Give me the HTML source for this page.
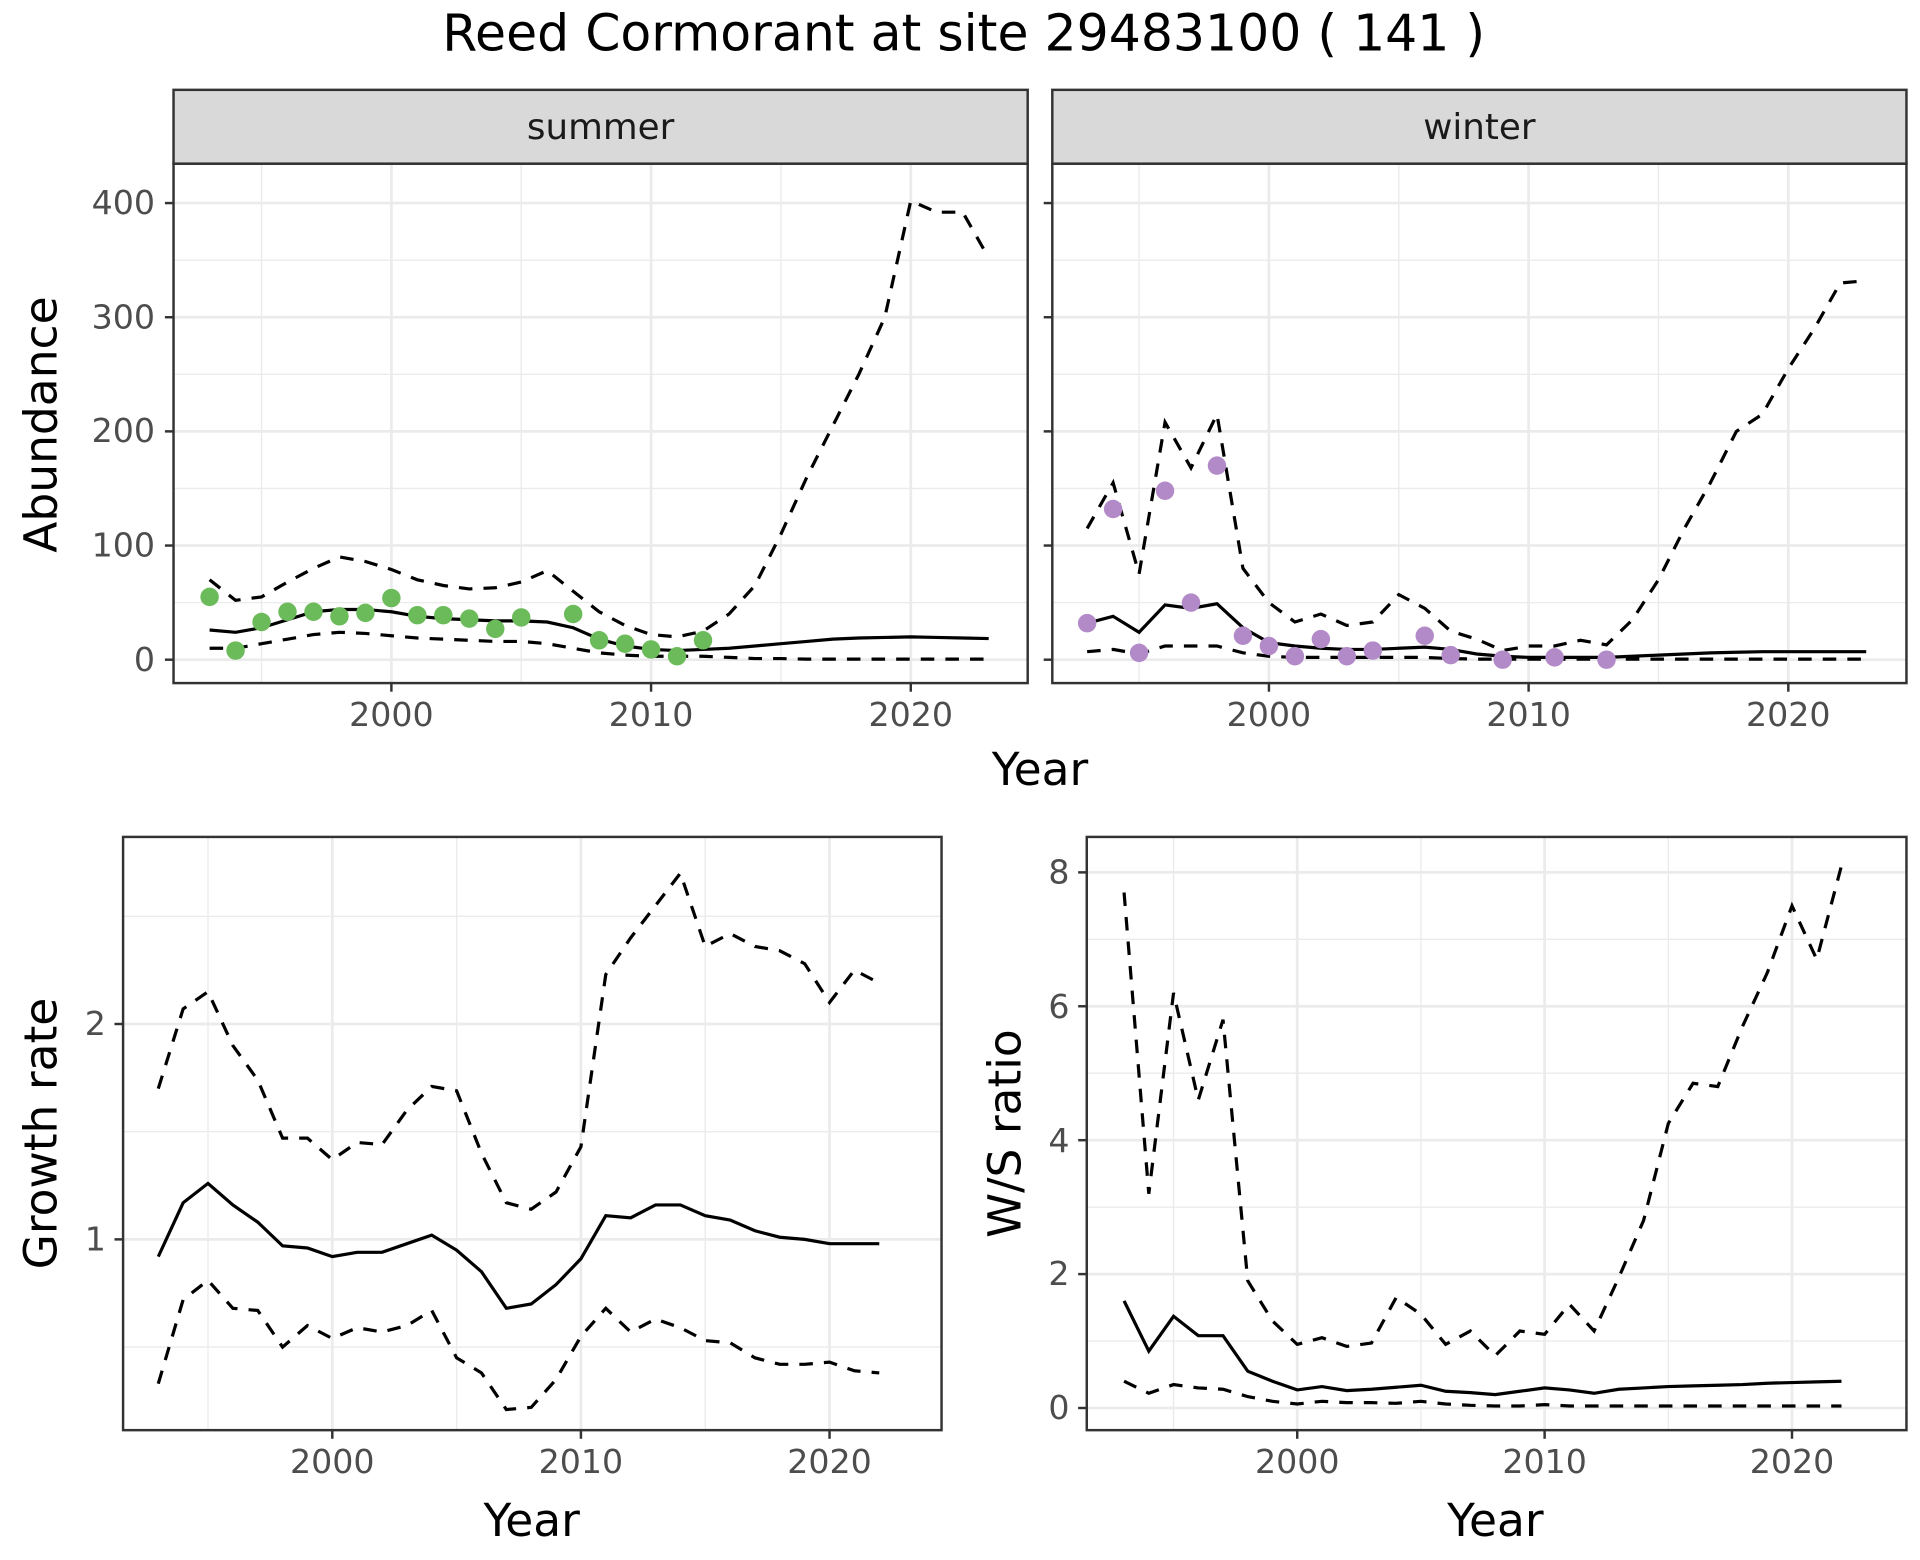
<!DOCTYPE html>
<html><head><meta charset="utf-8"><style>
html,body{margin:0;padding:0;background:#fff;}
svg{display:block;font-family:"DejaVu Sans","Liberation Sans",sans-serif;}
.t{fill:#4d4d4d;font-size:27px;}
.a{fill:#000;font-size:37px;}
</style></head><body>
<svg id="s" width="1920" height="1560" viewBox="0 0 1560 1267.5" xmlns="http://www.w3.org/2000/svg">
<rect width="1560" height="1268" fill="#fff"/>
<g id="grid"></g>
<g id="data"></g>
<text x="783" y="41" text-anchor="middle" font-size="41" fill="#000">Reed Cormorant at site 29483100 ( 141 )</text>
<rect x="141" y="73" width="694" height="60" fill="#d9d9d9" stroke="#333" stroke-width="2"/>
<rect x="855" y="73" width="694" height="60" fill="#d9d9d9" stroke="#333" stroke-width="2"/>
<text x="488" y="113" text-anchor="middle" font-size="29" fill="#1a1a1a">summer</text>
<text x="1202" y="113" text-anchor="middle" font-size="29" fill="#1a1a1a">winter</text>
<text class="t" x="126" y="545" text-anchor="end">0</text>
<text class="t" x="126" y="452" text-anchor="end">100</text>
<text class="t" x="126" y="359" text-anchor="end">200</text>
<text class="t" x="126" y="267" text-anchor="end">300</text>
<text class="t" x="126" y="174" text-anchor="end">400</text>
<text class="t" x="318" y="590" text-anchor="middle">2000</text>
<text class="t" x="529" y="590" text-anchor="middle">2010</text>
<text class="t" x="740" y="590" text-anchor="middle">2020</text>
<text class="t" x="1031" y="590" text-anchor="middle">2000</text>
<text class="t" x="1242" y="590" text-anchor="middle">2010</text>
<text class="t" x="1453" y="590" text-anchor="middle">2020</text>
<text class="a" x="845" y="638" text-anchor="middle">Year</text>
<text class="a" transform="translate(46,345) rotate(-90)" text-anchor="middle">Abundance</text>
<text class="t" x="86" y="1016" text-anchor="end">1</text>
<text class="t" x="86" y="841" text-anchor="end">2</text>
<text class="t" x="270" y="1197" text-anchor="middle">2000</text>
<text class="t" x="472" y="1197" text-anchor="middle">2010</text>
<text class="t" x="674" y="1197" text-anchor="middle">2020</text>
<text class="a" x="432" y="1248" text-anchor="middle">Year</text>
<text class="a" transform="translate(46,921) rotate(-90)" text-anchor="middle">Growth rate</text>
<text class="t" x="869" y="1153" text-anchor="end">0</text>
<text class="t" x="869" y="1044" text-anchor="end">2</text>
<text class="t" x="869" y="936" text-anchor="end">4</text>
<text class="t" x="869" y="827" text-anchor="end">6</text>
<text class="t" x="869" y="718" text-anchor="end">8</text>
<text class="t" x="1054" y="1197" text-anchor="middle">2000</text>
<text class="t" x="1255" y="1197" text-anchor="middle">2010</text>
<text class="t" x="1456" y="1197" text-anchor="middle">2020</text>
<text class="a" x="1215" y="1248" text-anchor="middle">Year</text>
<text class="a" transform="translate(829,921) rotate(-90)" text-anchor="middle">W/S ratio</text>
<g id="frames"></g>
</svg>
<script>
var NS="http://www.w3.org/2000/svg";
function el(p,t,a){var e=document.createElementNS(NS,t);for(var k in a)e.setAttribute(k,a[k]);document.getElementById(p).appendChild(e);return e;}
function yrs(a){var o=[];for(var i=0;i<a.length;i++)o.push([1993+i,a[i]]);return o;}
function panel(P){
 var fx=function(y){return P.x0+(y-2000)*P.sx;}, fy=function(v){return P.y0-(v-P.v0)*P.sy;};
 P.xminor.forEach(function(y){el("grid","line",{x1:fx(y),x2:fx(y),y1:P.t,y2:P.b,stroke:"#ebebeb","stroke-width":1.1});});
 P.yminor.forEach(function(v){el("grid","line",{x1:P.l,x2:P.r,y1:fy(v),y2:fy(v),stroke:"#ebebeb","stroke-width":1.1});});
 [2000,2010,2020].forEach(function(y){el("grid","line",{x1:fx(y),x2:fx(y),y1:P.t,y2:P.b,stroke:"#ebebeb","stroke-width":2.2});
   el("frames","line",{x1:fx(y),x2:fx(y),y1:P.b,y2:P.b+7,stroke:"#333","stroke-width":2});});
 P.ymajor.forEach(function(v){el("grid","line",{x1:P.l,x2:P.r,y1:fy(v),y2:fy(v),stroke:"#ebebeb","stroke-width":2.2});
   el("frames","line",{x1:P.l-7,x2:P.l,y1:fy(v),y2:fy(v),stroke:"#333","stroke-width":2});});
 function line(d,dash){el("data","polyline",{points:d.map(function(p){return fx(p[0])+","+fy(p[1]);}).join(" "),fill:"none",stroke:"#000","stroke-width":2.6,"stroke-dasharray":dash?"11,9":"none"});}
 line(P.up,1);line(P.lo,1);line(P.mean,0);
 (P.pts||[]).forEach(function(p){el("data","circle",{cx:fx(p[0]),cy:fy(p[1]),r:7.5,fill:P.col});});
 el("frames","rect",{x:P.l,y:P.t,width:P.r-P.l,height:P.b-P.t,fill:"none",stroke:"#333","stroke-width":2});
}
var sy=0.9275;
panel({l:141,r:835,t:133,b:555,x0:318,sx:21.1,y0:536,v0:0,sy:sy,xminor:[1995,2005,2015],yminor:[50,150,250,350],ymajor:[0,100,200,300,400],
 mean:yrs([26,24,28,35,42,44,44,42,38,36,35,34,34,33,28,18,12,9,8,9,10,12,14,16,18,19,19.5,20,19.5,19,18.5]),
 up:yrs([70,52,55,68,80,90,86,79,70,65,62,63,68,78,60,42,30,22,20,25,40,65,110,160,205,250,300,402,392,392,352]),
 lo:yrs([10,10,14,18,22,24,23,21,19,18,17,16,16,14,10,6,4,3,3,3,2,1,1,0.5,0.5,0.5,0.5,0.5,0.5,0.5,0.5]),
 pts:[[1993,55],[1994,8],[1995,33],[1996,42],[1997,42],[1998,38],[1999,41],[2000,54],[2001,39],[2002,39],[2003,36],[2004,27],[2005,37],[2007,40],[2008,17],[2009,14],[2010,9],[2011,3],[2012,17]],col:"#6cbb5a"});
panel({l:855,r:1549,t:133,b:555,x0:1031,sx:21.1,y0:536,v0:0,sy:sy,xminor:[1995,2005,2015],yminor:[50,150,250,350],ymajor:[0,100,200,300,400],
 mean:yrs([32,38,24,48,45,49,28,15,12,10,9,9,10,11,9,5,3,2,2,2,2,3,4,5,6,6.5,7,7,7,7,7]),
 up:yrs([115,155,75,208,168,215,80,50,33,40,30,33,57,45,25,18,8,12,12,17,13,35,70,115,155,200,215,255,290,330,332]),
 lo:yrs([7,9,5,12,12,12,6,3,2,2,2,2,2,2,1,0.5,0.5,0.5,0.5,0.5,0.5,0.5,0.5,0.5,0.5,0.5,0.5,0.5,0.5,0.5,0.5]),
 pts:[[1993,32],[1994,132],[1995,6],[1996,148],[1997,50],[1998,170],[1999,21],[2000,12],[2001,3],[2002,18],[2003,3],[2004,8],[2006,21],[2007,4],[2009,0],[2011,2],[2013,0]],col:"#b38ac8"});
panel({l:100,r:765,t:680,b:1162,x0:270,sx:20.2,y0:1007,v0:1,sy:175,xminor:[1995,2005,2015],yminor:[0.5,1.5,2.5],ymajor:[1,2],
 mean:yrs([0.92,1.17,1.26,1.16,1.08,0.97,0.96,0.92,0.94,0.94,0.98,1.02,0.95,0.85,0.68,0.70,0.79,0.91,1.11,1.10,1.16,1.16,1.11,1.09,1.04,1.01,1.00,0.98,0.98,0.98]),
 up:yrs([1.7,2.07,2.15,1.9,1.74,1.47,1.47,1.37,1.45,1.44,1.6,1.71,1.69,1.4,1.17,1.14,1.22,1.43,2.23,2.4,2.55,2.7,2.36,2.42,2.36,2.34,2.28,2.1,2.25,2.19]),
 lo:yrs([0.33,0.72,0.81,0.68,0.67,0.5,0.6,0.54,0.59,0.57,0.6,0.67,0.45,0.38,0.21,0.22,0.35,0.55,0.68,0.57,0.63,0.59,0.53,0.52,0.45,0.42,0.42,0.43,0.39,0.38])});
panel({l:883,r:1549,t:680,b:1162,x0:1054,sx:20.1,y0:1144,v0:0,sy:54.4,xminor:[1995,2005,2015],yminor:[1,3,5,7],ymajor:[0,2,4,6,8],
 mean:yrs([1.6,0.85,1.37,1.08,1.08,0.55,0.4,0.27,0.32,0.26,0.28,0.31,0.34,0.25,0.23,0.2,0.25,0.3,0.27,0.22,0.28,0.3,0.32,0.33,0.34,0.35,0.37,0.38,0.39,0.4]),
 up:yrs([7.7,3.2,6.2,4.6,5.8,1.9,1.3,0.95,1.05,0.92,0.97,1.65,1.4,0.95,1.15,0.78,1.15,1.1,1.55,1.15,1.95,2.8,4.25,4.85,4.8,5.7,6.5,7.5,6.7,8.1]),
 lo:yrs([0.4,0.22,0.35,0.3,0.28,0.17,0.1,0.06,0.1,0.08,0.08,0.07,0.1,0.06,0.04,0.03,0.03,0.05,0.03,0.03,0.03,0.03,0.03,0.03,0.03,0.03,0.03,0.03,0.03,0.03])});
</script>
</body></html>
